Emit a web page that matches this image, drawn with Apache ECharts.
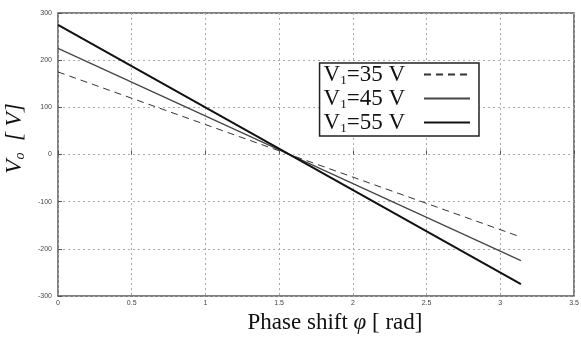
<!DOCTYPE html>
<html>
<head>
<meta charset="utf-8">
<script src="https://cdn.jsdelivr.net/npm/echarts@6/dist/echarts.min.js"></script>
<style>
  html, body { margin: 0; padding: 0; background: #fff; }
  #chart { width: 581px; height: 341px; }
</style>
</head>
<body>
<div id="chart"></div>
<script>
// phase shift [rad] at the two ends of each line
const phase = [0, 3.14];
// output voltage [V] for each supply voltage
const v35 = [175, -175];
const v45 = [225, -225];
const v55 = [275, -275];
const xTicks = [0, 0.5, 1, 1.5, 2, 2.5, 3, 3.5];
const yTicks = [-300, -200, -100, 0, 100, 200, 300];

const pairs = (ys) => phase.map((x, i) => [x, ys[i]]);

const chart = echarts.init(document.getElementById('chart'));
const serif = '"Liberation Serif", "DejaVu Serif", serif';
const gridLine = { show: true, lineStyle: { color: '#aaa', type: [2, 3], width: 1 } };

chart.setOption({
  animation: false,
  backgroundColor: '#fff',
  grid: {
    left: 58, right: 7, top: 13, bottom: 45,
    outerBoundsMode: 'none', containLabel: false,
    show: true, borderColor: '#555', borderWidth: 1.5
  },
  legend: {
    right: 102, top: 63,
    orient: 'vertical',
    align: 'right',
    itemGap: 0,
    itemWidth: 46,
    itemHeight: 12,
    padding: [0, 8, 1, 4],
    borderColor: '#222',
    borderWidth: 1.5,
    backgroundColor: '#fff',
    itemStyle: { opacity: 0 },
    formatter: (name) => '{v|V}{s|1}{e|=' + name + ' V}',
    textStyle: {
      rich: {
        v: { fontFamily: serif, fontSize: 23, color: '#111', lineHeight: 26 },
        e: { fontFamily: serif, fontSize: 23, color: '#111', lineHeight: 26, padding: [0, 14, 0, 0] },
        s: { fontFamily: serif, fontSize: 13, color: '#111', padding: [12, 0, 0, 0] }
      }
    },
    data: ['35', '45', '55']
  },
  xAxis: {
    type: 'value', min: 0, max: 3.5, interval: 0.5,
    axisLine: { show: false },
    axisTick: { inside: true, length: 4, lineStyle: { color: '#555' } },
    axisLabel: { fontSize: 7, color: '#444', margin: 4, formatter: (v) => xTicks.includes(v) ? String(v) : '' },
    splitLine: gridLine,
    name: '{t|Phase shift }{p|\u03c6}{t| [ rad]}',
    nameLocation: 'middle', nameGap: 14,
    nameTextStyle: {
      padding: [0, 0, 0, 38],
      rich: {
        t: { fontFamily: serif, fontSize: 23, color: '#111' },
        p: { fontFamily: serif, fontStyle: 'italic', fontSize: 23, color: '#111' }
      }
    }
  },
  yAxis: {
    type: 'value', min: -300, max: 300, interval: 100,
    axisLine: { show: false },
    axisTick: { inside: true, length: 4, lineStyle: { color: '#555' } },
    axisLabel: { fontSize: 7, color: '#444', margin: 6, formatter: (v) => yTicks.includes(v) ? String(v) : '' },
    splitLine: gridLine,
    name: '{i|V}{o|o}{i|  [ V]}',
    nameLocation: 'middle', nameGap: 29, nameRotate: 90,
    nameTextStyle: {
      padding: [0, 0, 0, 32],
      rich: {
        i: { fontFamily: serif, fontStyle: 'italic', fontSize: 23, color: '#111' },
        o: { fontFamily: serif, fontStyle: 'italic', fontSize: 14, color: '#111', padding: [10, 0, 0, 0] }
      }
    }
  },
  series: [
    { name: '35', type: 'line', data: pairs(v35), symbol: 'none', color: '#333',
      lineStyle: { color: '#333', width: 1, type: [7, 5] } },
    { name: '45', type: 'line', data: pairs(v45), symbol: 'none', color: '#444',
      lineStyle: { color: '#444', width: 1.2 } },
    { name: '55', type: 'line', data: pairs(v55), symbol: 'none', color: '#111',
      lineStyle: { color: '#111', width: 2 } }
  ]
});
</script>
</body>
</html>
